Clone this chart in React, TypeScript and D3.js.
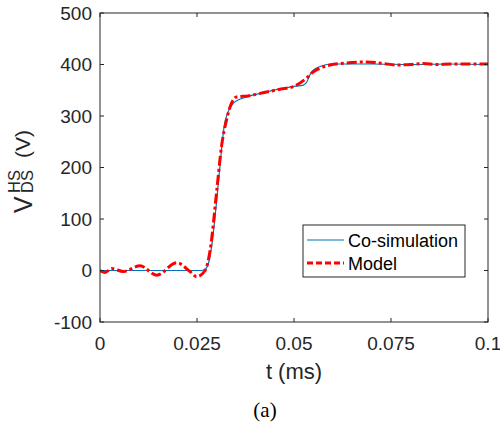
import React from "react";
import * as d3 from "d3";

const coSimT = [0, 0.01, 0.02, 0.026, 0.027, 0.028, 0.029, 0.030, 0.031, 0.032, 0.033, 0.0344, 0.0378, 0.042, 0.0472, 0.0505, 0.0524, 0.0533, 0.0540, 0.0546, 0.0555, 0.0567, 0.0593, 0.065, 0.07, 0.08, 0.09, 0.1];
const coSimV = [0, 0, 0, 0, 2, 15, 60, 130, 210, 280, 308, 325, 337, 345, 354, 358, 360, 366, 378, 386, 392, 396, 401, 401, 401, 400, 401, 400];

const modelT = [0, 0.0013, 0.003, 0.006, 0.0103, 0.0146, 0.0198, 0.0232, 0.0249, 0.0271, 0.0284, 0.0301, 0.0313, 0.0326, 0.0339, 0.0352, 0.0382, 0.042, 0.0464, 0.0498, 0.0533, 0.055, 0.0567, 0.0593, 0.0636, 0.0687, 0.073, 0.0764, 0.080, 0.0833, 0.087, 0.0902, 0.095, 0.1];
const modelV = [0, -4, 4, -2, 9, -9, 15, -2, -12, 0, 40, 156, 240, 292, 325, 337, 339, 345, 352, 357, 374, 386, 393, 399, 403, 405, 402, 399, 400, 402, 400, 401, 401, 401];

const xTicks = [0, 0.025, 0.05, 0.075, 0.1];
const xTickLabels = ["0", "0.025", "0.05", "0.075", "0.1"];
const yTicks = [-100, 0, 100, 200, 300, 400, 500];

const seriesNames = ["Co-simulation", "Model"];

export default function App() {
  const left = 100, right = 488, top = 13, bottom = 322;
  const x = d3.scaleLinear().domain([0, 0.1]).range([left, right]);
  const y = d3.scaleLinear().domain([-100, 500]).range([bottom, top]);
  const line = d3
    .line<[number, number]>()
    .x((d) => x(d[0]))
    .y((d) => y(d[1]))
    .curve(d3.curveMonotoneX);
  const coSim = coSimT.map((t, i) => [t, coSimV[i]] as [number, number]);
  const model = modelT.map((t, i) => [t, modelV[i]] as [number, number]);
  const axisColor = "#262626";
  const font = "'Liberation Sans', Arial, Helvetica, sans-serif";
  const tickLen = 4;

  return (
    <svg width={500} height={424} style={{ position: "absolute", left: 0, top: 0, background: "#fff" }} fontFamily={font}>
      <rect x={0} y={0} width={500} height={424} fill="#fff" />
      <defs>
        <clipPath id="plotclip">
          <rect x={left} y={top} width={right - left} height={bottom - top} />
        </clipPath>
      </defs>
      <g clipPath="url(#plotclip)">
        <path d={line(coSim) || ""} fill="none" stroke="#0072BD" strokeWidth={1.2} />
        <path d={line(model) || ""} fill="none" stroke="#FF0000" strokeWidth={3} strokeDasharray="10,3,3,3" />
      </g>
      {/* axes box */}
      <rect x={left} y={top} width={right - left} height={bottom - top} fill="none" stroke={axisColor} strokeWidth={1} />
      {xTicks.map((t, i) => (
        <g key={"xt" + i}>
          <line x1={x(t)} x2={x(t)} y1={bottom} y2={bottom - tickLen} stroke={axisColor} />
          <line x1={x(t)} x2={x(t)} y1={top} y2={top + tickLen} stroke={axisColor} />
          <text x={x(t)} y={350} textAnchor="middle" fontSize={19} fill={axisColor}>
            {xTickLabels[i]}
          </text>
        </g>
      ))}
      {yTicks.map((v, i) => (
        <g key={"yt" + i}>
          <line x1={left} x2={left + tickLen} y1={y(v)} y2={y(v)} stroke={axisColor} />
          <line x1={right} x2={right - tickLen} y1={y(v)} y2={y(v)} stroke={axisColor} />
          <text x={92} y={y(v)} dy="0.36em" textAnchor="end" fontSize={19} fill={axisColor}>
            {v}
          </text>
        </g>
      ))}
      {/* x label */}
      <text x={294} y={379} textAnchor="middle" fontSize={22} fill={axisColor}>
        t (ms)
      </text>
      {/* y label */}
      <g transform="translate(32, 213) rotate(-90)" fill={axisColor}>
        <text x={0} y={0} fontSize={25}>V</text>
        <text x={20} y={-12} fontSize={16.5}>HS</text>
        <text x={20} y={1} fontSize={16.5}>DS</text>
        <text x={55} y={-2} fontSize={21}>(V)</text>
      </g>
      {/* legend */}
      <rect x={303} y={225} width={162} height={52} fill="#fff" stroke={axisColor} strokeWidth={1} />
      <line x1={307} x2={344} y1={240} y2={240} stroke="#0072BD" strokeWidth={1.2} />
      <line x1={307} x2={344} y1={263} y2={263} stroke="#FF0000" strokeWidth={3} strokeDasharray="6,3" />
      <text x={348} y={247} fontSize={18} fill="#000">{seriesNames[0]}</text>
      <text x={348} y={270} fontSize={18} fill="#000">{seriesNames[1]}</text>
      {/* caption */}
      <text x={265} y={417} textAnchor="middle" fontSize={21} fontFamily="'Liberation Serif', 'Times New Roman', serif" fill="#000">
        (a)
      </text>
    </svg>
  );
}
